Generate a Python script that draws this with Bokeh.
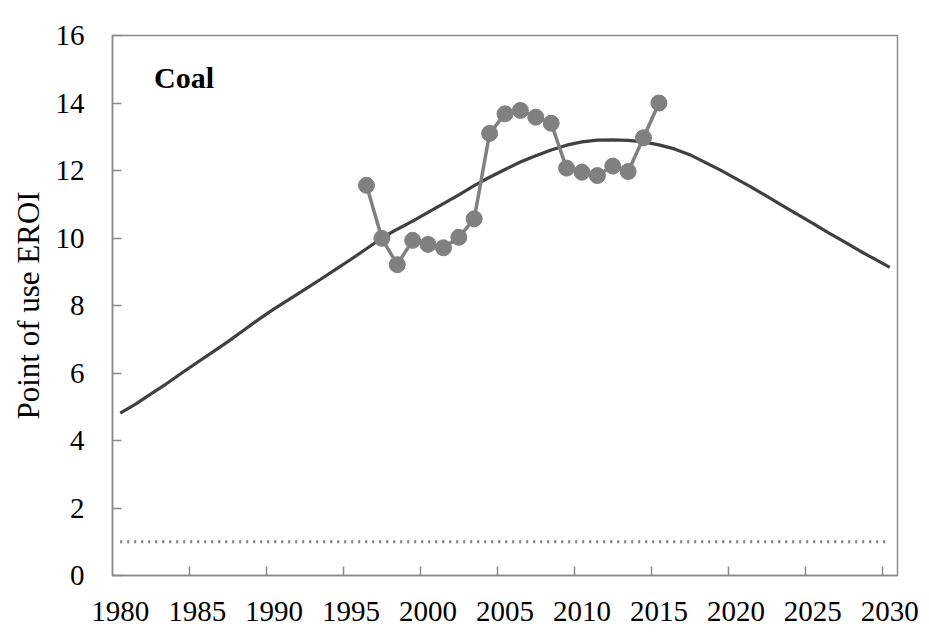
from bokeh.plotting import figure
from bokeh.models import Range1d, FixedTicker, Label
from bokeh.embed import file_html
from bokeh.resources import INLINE

# ---- data ----
curve_years = list(range(1980, 2031))
curve_eroi = [4.81, 5.08, 5.38, 5.68, 6.00, 6.31, 6.62, 6.93, 7.26, 7.59,
              7.90, 8.19, 8.48, 8.77, 9.07, 9.37, 9.68, 10.00, 10.26, 10.50,
              10.76, 11.02, 11.28, 11.55, 11.80, 12.03, 12.25, 12.44, 12.61, 12.75,
              12.85, 12.90, 12.91, 12.89, 12.85, 12.76, 12.64, 12.47, 12.24, 12.01,
              11.76, 11.51, 11.24, 10.97, 10.70, 10.43, 10.16, 9.90, 9.63, 9.38,
              9.13]
obs_years = list(range(1996, 2016))
obs_eroi = [11.56, 9.99, 9.21, 9.93, 9.81, 9.71, 10.02, 10.57, 13.10, 13.68,
            13.78, 13.58, 13.40, 12.07, 11.95, 11.85, 12.13, 11.97, 12.97, 14.00]
breakeven = 1.0
y_ticks = list(range(0, 17, 2))
x_label_years = list(range(1980, 2031, 5))
x_tick_marks = [y - 0.5 for y in range(1985, 2031, 5)]

SERIF = "Liberation Serif"
AX = "#8a8a8a"

p = figure(width=929, height=642, output_backend="svg", toolbar_location=None,
           x_range=Range1d(1979.5, 2030.5), y_range=Range1d(0, 16),
           min_border_left=112, min_border_right=32, min_border_top=35,
           min_border_bottom=67)
p.background_fill_color = "white"
p.border_fill_color = "white"
p.outline_line_color = AX
p.outline_line_width = 1.5
p.xgrid.grid_line_color = None
p.ygrid.grid_line_color = None

# x axis: labels centred on categories, tick marks between them
xa = p.xaxis[0]
xa.ticker = FixedTicker(ticks=x_label_years, minor_ticks=x_tick_marks)
xa.major_tick_line_color = None
xa.minor_tick_in = 9
xa.minor_tick_out = 0
xa.minor_tick_line_color = AX
xa.minor_tick_line_width = 1.5
xa.axis_line_color = AX
xa.axis_line_width = 1.5
xa.major_label_text_font = SERIF
xa.major_label_text_font_size = "29px"
xa.major_label_text_color = "black"
xa.major_label_standoff = 20

ya = p.yaxis[0]
ya.ticker = FixedTicker(ticks=y_ticks)
ya.major_tick_in = 9
ya.major_tick_out = 0
ya.minor_tick_line_color = None
ya.major_tick_line_color = AX
ya.major_tick_line_width = 1.5
ya.axis_line_color = AX
ya.axis_line_width = 1.5
ya.major_label_text_font = SERIF
ya.major_label_text_font_size = "29px"
ya.major_label_text_color = "black"
ya.major_label_standoff = 28
ya.axis_label = "Point of use EROI"
ya.axis_label_text_font = SERIF
ya.axis_label_text_font_style = "normal"
ya.axis_label_text_font_size = "31px"
ya.axis_label_text_color = "black"
ya.axis_label_standoff = 7

# break-even dotted line
p.line([curve_years[0], curve_years[-1]], [breakeven, breakeven],
       line_color="#7a7a7a", line_width=3, line_dash="2 5")

# modelled curve
p.line(curve_years, curve_eroi, line_color="#404040", line_width=3.2)

# observed series
p.line(obs_years, obs_eroi, line_color="#808080", line_width=3.5)
p.scatter(obs_years, obs_eroi, size=16, fill_color="#808080", line_color="#808080")

p.add_layout(Label(x=1982.2, y=14.76, text="Coal", text_font=SERIF,
                   text_font_style="bold", text_font_size="30px",
                   text_color="black", text_baseline="alphabetic"))

open("out.html", "w").write(file_html(p, INLINE))
